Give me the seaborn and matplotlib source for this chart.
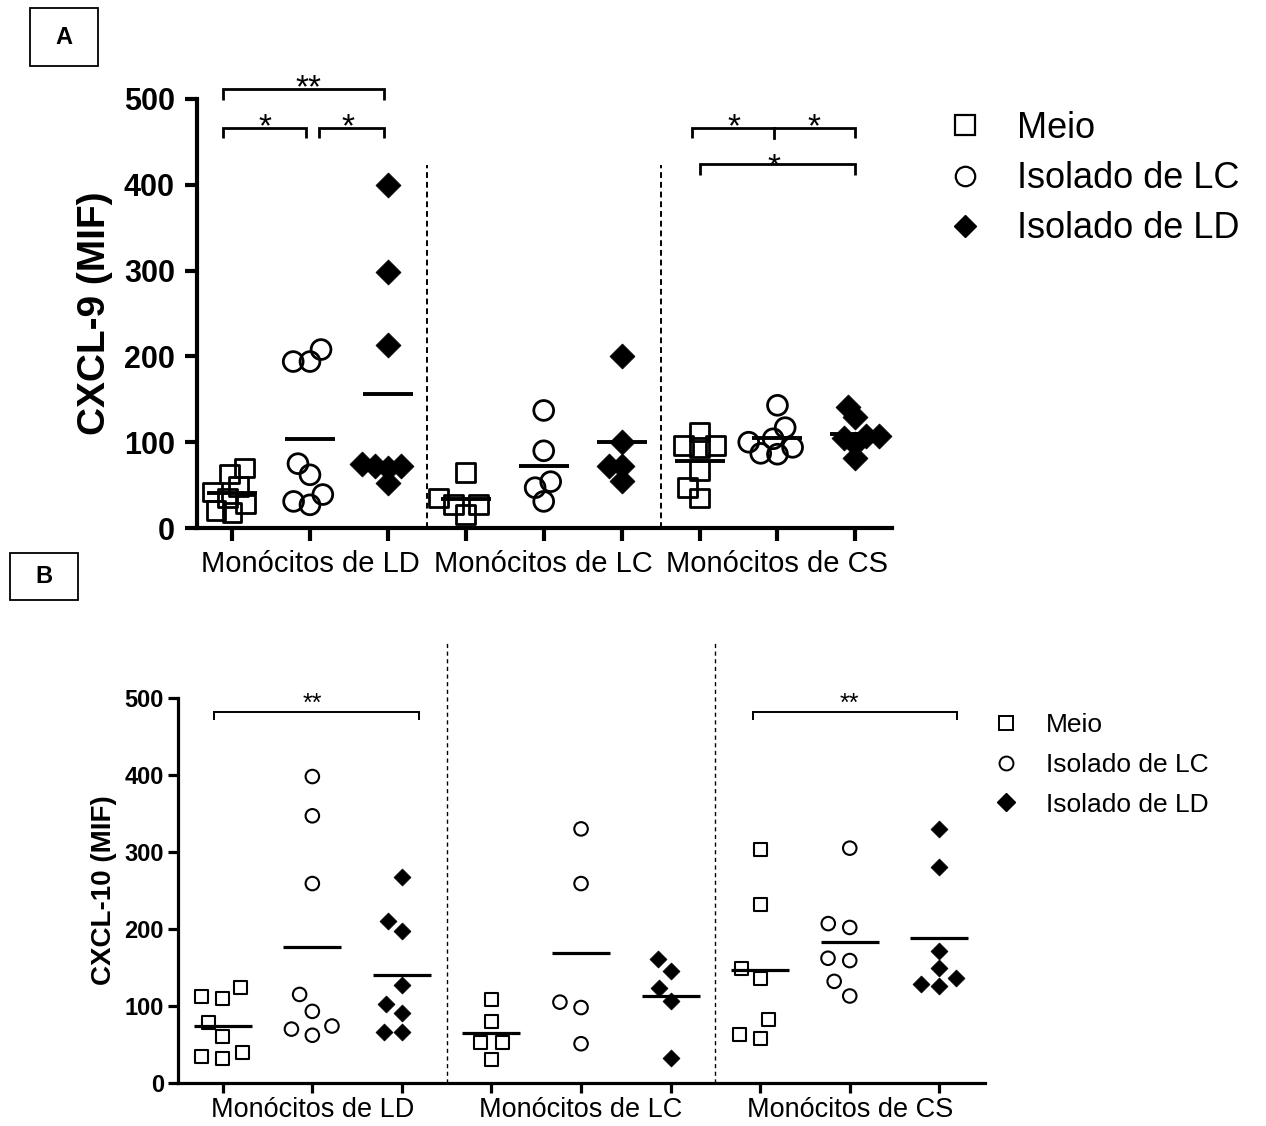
import numpy as np
import pandas as pd
import matplotlib
matplotlib.use("Agg")
import matplotlib.pyplot as plt
from matplotlib.lines import Line2D
from matplotlib.patches import Rectangle
from matplotlib.markers import MarkerStyle
from matplotlib.transforms import Affine2D
import seaborn as sns


# groups and conditions
monocytes = ["Monócitos de LD", "Monócitos de LC", "Monócitos de CS"]
conditions = ["Meio", "Isolado de LC", "Isolado de LD"]

# Panel A - CXCL-9 (MIF)
ld_meio_a = [70, 63, 48, 42, 35, 28, 20, 18]
ld_lc_a = [208, 194, 194, 75, 62, 39, 27, 31]
ld_ld_a = [400, 298, 213, 75, 72, 72, 70, 52]
lc_meio_a = [65, 35, 27, 27, 16]
lc_lc_a = [137, 90, 54, 47, 31]
lc_ld_a = [200, 100, 72, 72, 55]
cs_meio_a = [112, 96, 94, 96, 67, 47, 35]
cs_lc_a = [143, 117, 104, 100, 94, 87, 86]
cs_ld_a = [141, 129, 107, 107, 105, 98, 82]

# Panel B - CXCL-10 (MIF)
ld_meio_b = [124, 110, 112, 79, 60, 40, 32, 34]
ld_lc_b = [398, 347, 259, 115, 93, 74, 62, 70]
ld_ld_b = [267, 211, 197, 127, 102, 91, 66, 66]
lc_meio_b = [109, 80, 53, 53, 31]
lc_lc_b = [330, 259, 105, 98, 51]
lc_ld_b = [161, 145, 123, 106, 32]
cs_meio_b = [303, 232, 149, 136, 82, 58, 63]
cs_lc_b = [305, 207, 202, 162, 159, 132, 113]
cs_ld_b = [330, 280, 172, 149, 136, 126, 129]

yticks = [0, 100, 200, 300, 400, 500]

plt.rcParams['font.family'] = ['Liberation Sans', 'DejaVu Sans']


def build_df(series):
    """series: list of lists ordered group by group, condition by condition"""
    rows = []
    i = 0
    for m in monocytes:
        for c in conditions:
            for v in series[i]:
                rows.append({"slot": f"{m}|{c}", "cond": c, "val": v})
            i += 1
    return pd.DataFrame(rows)


slots = [f"{m}|{c}" for m in monocytes for c in conditions]
base_markers = {"Meio": "s", "Isolado de LC": "o", "Isolado de LD": "D"}

df_a = build_df([ld_meio_a, ld_lc_a, ld_ld_a, lc_meio_a, lc_lc_a, lc_ld_a,
                 cs_meio_a, cs_lc_a, cs_ld_a])
df_b = build_df([ld_meio_b, ld_lc_b, ld_ld_b, lc_meio_b, lc_lc_b, lc_ld_b,
                 cs_meio_b, cs_lc_b, cs_ld_b])


def draw_panel(ax, df, sizes, scale, lw, mean_len, mean_w, spine_w, tick_len, tick_pad):
    # swarm layout uses `sizes`, the drawn marker is scaled by `scale`
    for c in conditions:
        sub = df[df["cond"] == c]
        filled = c == "Isolado de LD"
        mk = MarkerStyle(base_markers[c], transform=Affine2D().scale(scale))
        n0 = len(ax.collections)
        sns.swarmplot(data=sub, x="slot", y="val", order=slots, marker=mk,
                      size=sizes[c], color="black", edgecolor="black",
                      linewidth=lw if not filled else 0.5, ax=ax, warn_thresh=1.0)
        if not filled:
            for coll in ax.collections[n0:]:
                coll.set_facecolor("none")
    sns.pointplot(data=df, x="slot", y="val", order=slots, estimator="mean",
                  errorbar=None, color="black", markers="_", linestyles="none",
                  markersize=mean_len, markeredgewidth=mean_w, zorder=5, ax=ax)
    for s in ["top", "right"]:
        ax.spines[s].set_visible(False)
    for s in ["left", "bottom"]:
        ax.spines[s].set_linewidth(spine_w)
    ax.set_ylim(0, 500)
    ax.set_yticks(yticks)
    ax.set_xticks(range(9))
    ax.set_xticklabels(["", monocytes[0], "", "", monocytes[1], "", "", monocytes[2], ""])
    ax.tick_params(axis="both", width=spine_w, length=tick_len, direction="out", pad=tick_pad)
    ax.set_xlabel("")


def bracket(ax, x0, x1, y, drop, lw, mid=None):
    ax.plot([x0, x0, x1, x1], [y - drop, y, y, y - drop], color="black", lw=lw,
            clip_on=False, solid_capstyle="butt", solid_joinstyle="miter")
    if mid is not None:
        ax.plot([mid, mid], [y, y - drop], color="black", lw=lw, clip_on=False)


fig = plt.figure(figsize=(12.66, 11.26), dpi=100)

# ---------- Panel A ----------
ax_a = fig.add_axes([197 / 1266, 1 - 528 / 1126, 695 / 1266, 429 / 1126])
draw_panel(ax_a, df_a, {"Meio": 9, "Isolado de LC": 9.5, "Isolado de LD": 8.5}, scale=1.5,
           lw=2.0, mean_len=36, mean_w=2.8, spine_w=3.0, tick_len=9, tick_pad=7)
ax_a.set_xlim(-0.45, 8.47)
ax_a.set_ylabel("CXCL-9 (MIF)", fontsize=28, fontweight="bold")
ax_a.yaxis.set_label_coords(-0.121, 0.5)
for lab in ax_a.get_yticklabels():
    lab.set_fontsize(22)
    lab.set_fontweight("bold")
for lab in ax_a.get_xticklabels():
    lab.set_fontsize(21)
for xd in [2.5, 5.5]:
    ax_a.plot([xd, xd], [0, 423], ls=(0, (3, 2)), color="black", lw=1.4)

# significance brackets (y of stars given as baseline)
bracket(ax_a, -0.12, 1.95, 512, 13, 2.0)
ax_a.text(0.98, 502, "**", ha="center", va="baseline", fontsize=24)
bracket(ax_a, -0.12, 0.95, 466, 12, 2.0)
ax_a.text(0.42, 456, "*", ha="center", va="baseline", fontsize=24)
bracket(ax_a, 1.12, 1.95, 466, 12, 2.0)
ax_a.text(1.49, 456, "*", ha="center", va="baseline", fontsize=24)
bracket(ax_a, 5.9, 8.0, 466, 12, 2.0, mid=6.95)
ax_a.text(6.44, 456, "*", ha="center", va="baseline", fontsize=24)
ax_a.text(7.47, 456, "*", ha="center", va="baseline", fontsize=24)
bracket(ax_a, 6.0, 8.0, 424, 13, 2.0)
ax_a.text(6.95, 410, "*", ha="center", va="baseline", fontsize=24)

handles_a = [
    Line2D([], [], marker="s", ls="none", markersize=14, markerfacecolor="none",
           markeredgecolor="black", markeredgewidth=1.6),
    Line2D([], [], marker="o", ls="none", markersize=14, markerfacecolor="none",
           markeredgecolor="black", markeredgewidth=1.6),
    Line2D([], [], marker="D", ls="none", markersize=11, markerfacecolor="black",
           markeredgecolor="black"),
]
fig.legend(handles_a, conditions, loc="upper left", bbox_to_anchor=(947 / 1266, 1 - 111 / 1126),
           frameon=False, fontsize=26, handlelength=1.0, handletextpad=0.95,
           labelspacing=0.42, borderaxespad=0, borderpad=0)

# ---------- Panel B ----------
ax_b = fig.add_axes([178 / 1266, 1 - 1083 / 1126, 807 / 1266, 385 / 1126])
draw_panel(ax_b, df_b, {"Meio": 13, "Isolado de LC": 13.5, "Isolado de LD": 12}, scale=0.72,
           lw=1.5, mean_len=42, mean_w=2.3, spine_w=2.3, tick_len=7, tick_pad=3)
ax_b.set_xlim(-0.5, 8.51)
ax_b.set_ylabel("CXCL-10 (MIF)", fontsize=20, fontweight="bold")
ax_b.yaxis.set_label_coords(-0.076, 0.5)
for lab in ax_b.get_yticklabels():
    lab.set_fontsize(17)
    lab.set_fontweight("bold")
for lab in ax_b.get_xticklabels():
    lab.set_fontsize(19.5)
for xd in [2.5, 5.5]:
    ax_b.plot([xd, xd], [0, 574], ls=(0, (3, 2.5)), color="black", lw=1.0, clip_on=False)

bracket(ax_b, -0.1, 2.19, 482, 11, 1.4)
ax_b.text(1.0, 483, "**", ha="center", va="baseline", fontsize=18)
bracket(ax_b, 5.92, 8.2, 482, 11, 1.4)
ax_b.text(7.0, 483, "**", ha="center", va="baseline", fontsize=18)

handles_b = [
    Line2D([], [], marker="s", ls="none", markersize=10, markerfacecolor="none",
           markeredgecolor="black", markeredgewidth=1.4),
    Line2D([], [], marker="o", ls="none", markersize=10, markerfacecolor="none",
           markeredgecolor="black", markeredgewidth=1.4),
    Line2D([], [], marker="D", ls="none", markersize=9, markerfacecolor="black",
           markeredgecolor="black"),
]
fig.legend(handles_b, conditions, loc="upper left", bbox_to_anchor=(993 / 1266, 1 - 713 / 1126),
           frameon=False, fontsize=19, handlelength=1.0, handletextpad=1.0,
           labelspacing=0.6, borderaxespad=0, borderpad=0)

# panel letters
for (x0, y0, w, h, letter) in [(30, 8, 68, 58, "A"), (10, 553, 68, 47, "B")]:
    fig.patches.append(Rectangle((x0 / 1266, 1 - (y0 + h) / 1126), w / 1266, h / 1126,
                                 transform=fig.transFigure, fill=False, lw=1.3,
                                 edgecolor="black"))
    fig.text((x0 + w / 2) / 1266, 1 - (y0 + h / 2) / 1126, letter, ha="center",
             va="center", fontsize=17, fontweight="bold")

fig.savefig("out.png", dpi=100)
